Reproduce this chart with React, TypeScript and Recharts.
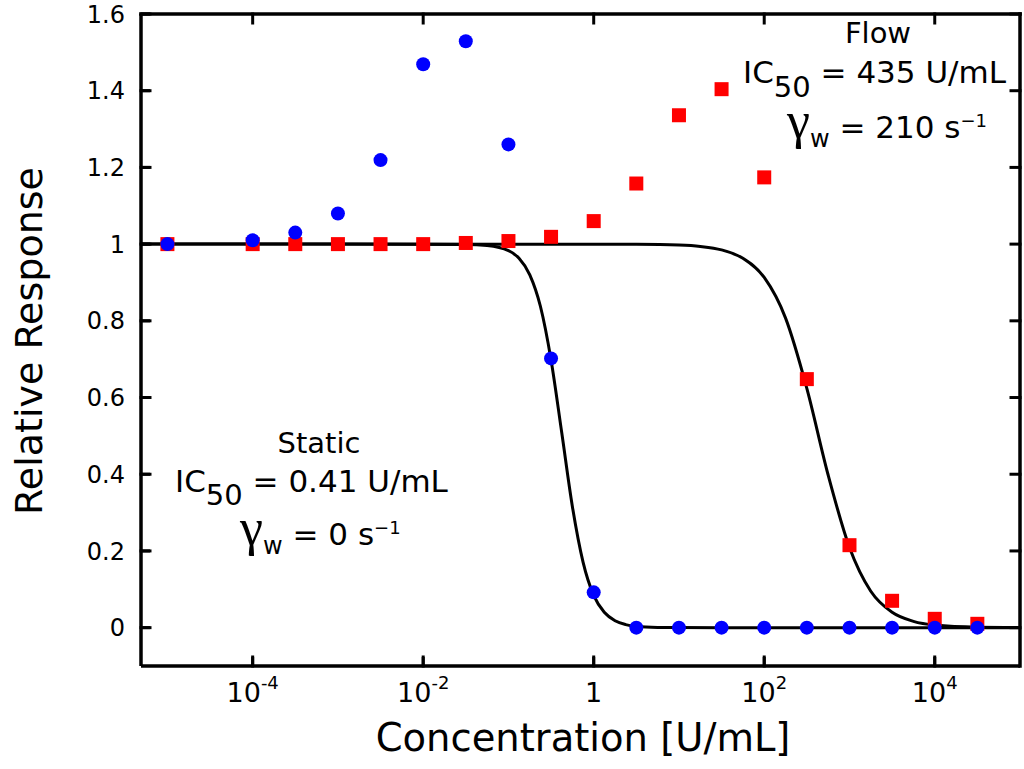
import React from "react";
import {
  ComposedChart,
  Line,
  Scatter,
  XAxis,
  YAxis,
  ReferenceLine,
  Customized,
} from "recharts";

// ---- data ----
const concentrations = [
  0.00001, 0.0001, 0.000316, 0.001, 0.00316, 0.01, 0.0316, 0.1, 0.316, 1,
  3.16, 10, 31.6, 100, 316, 1000, 3160, 10000, 31600,
];
const staticValues = [
  1.0, 1.01, 1.03, 1.08, 1.219, 1.469, 1.529, 1.26, 0.702, 0.092, 0, 0, 0, 0,
  0, 0, 0, 0, 0,
];
const flowValues = [
  1.0, 1.0, 1.0, 1.0, 1.0, 1.0, 1.003, 1.008, 1.019, 1.06, 1.158, 1.336,
  1.404, 1.174, 0.648, 0.215, 0.07, 0.023, 0.01,
];

// fitted curves
const staticCurveX = [
  0.0000049, 0.001, 0.0316, 0.0562, 0.1, 0.133, 0.178, 0.237, 0.316, 0.422,
  0.562, 0.75, 1, 1.33, 1.78, 2.37, 3.16, 5.62, 10, 100, 100000,
];
const staticCurveY = [
  1, 1, 0.9993, 0.9965, 0.983, 0.963, 0.92, 0.838, 0.698, 0.508, 0.316, 0.171,
  0.084, 0.04, 0.018, 0.008, 0.0036, 0.0007, 0.0002, 0, 0,
];
const flowCurveX = [
  0.0000049, 1, 3.16, 10, 17.8, 31.6, 56.2, 100, 178, 316, 562, 1000, 1778,
  3162, 5623, 10000, 31623, 100000,
];
const flowCurveY = [
  1, 0.99994, 0.9996, 0.9976, 0.994, 0.985, 0.963, 0.913, 0.807, 0.624, 0.398,
  0.209, 0.095, 0.04, 0.0164, 0.0066, 0.001, 0.0002,
];

const xTicks = [0.0001, 0.01, 1, 100, 10000];
const xTickLabels = [
  { base: "10", exp: "-4" },
  { base: "10", exp: "-2" },
  { base: "1", exp: "" },
  { base: "10", exp: "2" },
  { base: "10", exp: "4" },
];
const yTicks = [0, 0.2, 0.4, 0.6, 0.8, 1, 1.2, 1.4, 1.6];
const yTickLabels = ["0", "0.2", "0.4", "0.6", "0.8", "1", "1.2", "1.4", "1.6"];

// ---- layout (page coordinates; chart placed at page origin) ----
const W = 1024;
const H = 769;
const PLOT_TOP = 14;
const PLOT_RIGHT = 1020;
const PLOT_LEFT = 141;
const PLOT_BOTTOM = 666;
const X_MIN = 0.0000049;
const X_MAX = 100000;
const Y_MIN = -0.1;
const Y_MAX = 1.6;
const TICK_DY = 0.0235; // inward tick length in y data units (~9px)
const TICK_XF = 1.275; // inward tick length as x factor on log axis (~9px)
const FONT = "'DejaVu Sans', 'Liberation Sans', sans-serif";
const GAMMA_FONT = "'Liberation Serif', 'DejaVu Serif', serif";

const staticPts = concentrations.map((x, i) => ({ x, y: staticValues[i] }));
const flowPts = concentrations.map((x, i) => ({ x, y: flowValues[i] }));
const staticCurve = staticCurveX.map((x, i) => ({ x, y: staticCurveY[i] }));
const flowCurve = flowCurveX.map((x, i) => ({ x, y: flowCurveY[i] }));

const BottomTick = (props: any) => {
  const { x, payload } = props;
  const idx = xTicks.indexOf(payload.value);
  const lab = xTickLabels[idx] || { base: String(payload.value), exp: "" };
  return (
    <text x={x} y={702} textAnchor="middle" fontFamily={FONT} fontSize={27} fill="#000">
      <tspan>{lab.base}</tspan>
      {lab.exp ? (
        <tspan dy={-13} fontSize={18}>{lab.exp}</tspan>
      ) : null}
    </text>
  );
};

const LeftTick = (props: any) => {
  const { y, payload } = props;
  const idx = yTicks.indexOf(payload.value);
  return (
    <text x={125} y={y} dy="0.36em" textAnchor="end" fontFamily={FONT} fontSize={24} fill="#000">
      {yTickLabels[idx]}
    </text>
  );
};

const EmptyTick = () => <g />;

const Circle = (props: any) => {
  const { cx, cy } = props;
  return <circle cx={cx} cy={cy} r={7} fill="#0000ff" />;
};
const Square = (props: any) => {
  const { cx, cy } = props;
  return <rect x={cx - 7} y={cy - 7} width={14} height={14} fill="#ff0000" />;
};

const GammaLine = ({ x, y, value }: { x: number; y: number; value: string }) => (
  <text x={x} y={y} fontSize={31} fontFamily={FONT} fill="#000">
    <tspan fontFamily={GAMMA_FONT} fontSize={52}>γ</tspan>
    <tspan dy={9} fontSize={24}>w</tspan>
    <tspan dy={-9}>{" = " + value + " s"}</tspan>
    <tspan dy={-11} fontSize={18}>−1</tspan>
  </text>
);

const Annotations = () => (
  <g fontFamily={FONT} fill="#000">
    <text x={583} y={751} textAnchor="middle" fontSize={38.5}>
      Concentration [U/mL]
    </text>
    <text transform="translate(42, 341) rotate(-90)" textAnchor="middle" fontSize={38}>
      Relative Response
    </text>
    <text x={878} y={43} textAnchor="middle" fontSize={29}>Flow</text>
    <text x={743} y={83} fontSize={31}>
      <tspan>IC</tspan>
      <tspan dy={14} fontSize={29}>50</tspan>
      <tspan dy={-14}> = 435 U/mL</tspan>
    </text>
    <GammaLine x={787} y={138} value="210" />
    <text x={319} y={453} textAnchor="middle" fontSize={29}>Static</text>
    <text x={175} y={492} fontSize={31}>
      <tspan>IC</tspan>
      <tspan dy={13} fontSize={29}>50</tspan>
      <tspan dy={-13}> = 0.41 U/mL</tspan>
    </text>
    <GammaLine x={240} y={545} value="0" />
  </g>
);

const axisLineStyle = { stroke: "#000", strokeWidth: 3.5 };
const tickLineStyle = { stroke: "#000", strokeWidth: 3 };

export default function App() {
  const xDomain = [X_MIN, X_MAX];
  const segs: { key: string; seg: { x: number; y: number }[]; w: number }[] = [
    { key: "frame-top", seg: [{ x: X_MIN, y: Y_MAX }, { x: X_MAX, y: Y_MAX }], w: 3.5 },
    { key: "frame-right", seg: [{ x: X_MAX, y: Y_MIN }, { x: X_MAX, y: Y_MAX }], w: 3.5 },
  ];
  xTicks.forEach((t) => {
    segs.push({ key: "xb" + t, seg: [{ x: t, y: Y_MIN }, { x: t, y: Y_MIN + TICK_DY }], w: 3 });
    segs.push({ key: "xt" + t, seg: [{ x: t, y: Y_MAX }, { x: t, y: Y_MAX - TICK_DY }], w: 3 });
  });
  yTicks.forEach((t) => {
    segs.push({ key: "yl" + t, seg: [{ x: X_MIN, y: t }, { x: X_MIN * TICK_XF, y: t }], w: 3 });
    segs.push({ key: "yr" + t, seg: [{ x: X_MAX, y: t }, { x: X_MAX / TICK_XF, y: t }], w: 3 });
  });
  return (
    <div style={{ position: "absolute", left: 0, top: 0, width: W, height: H, background: "#fff" }}>
      <ComposedChart
        width={W}
        height={H}
        margin={{ top: PLOT_TOP, right: W - PLOT_RIGHT, bottom: 0, left: 0 }}
      >
        <XAxis
          xAxisId="b"
          dataKey="x"
          type="number"
          scale="log"
          domain={xDomain}
          allowDataOverflow
          ticks={xTicks}
          height={H - PLOT_BOTTOM}
          axisLine={axisLineStyle}
          tickLine={tickLineStyle}
          tickSize={-9}
          tick={<BottomTick />}
          interval={0}
        />
        <XAxis
          xAxisId="t"
          orientation="top"
          dataKey="x"
          type="number"
          scale="log"
          domain={xDomain}
          allowDataOverflow
          ticks={xTicks}
          height={0}
          axisLine={axisLineStyle}
          tickLine={tickLineStyle}
          tickSize={-9}
          tick={<EmptyTick />}
          interval={0}
        />
        <YAxis
          yAxisId="l"
          dataKey="y"
          type="number"
          domain={[Y_MIN, Y_MAX]}
          allowDataOverflow
          ticks={yTicks}
          width={PLOT_LEFT}
          axisLine={axisLineStyle}
          tickLine={tickLineStyle}
          tickSize={-9}
          tick={<LeftTick />}
          interval={0}
        />
        <YAxis
          yAxisId="r"
          orientation="right"
          dataKey="y"
          type="number"
          domain={[Y_MIN, Y_MAX]}
          allowDataOverflow
          ticks={yTicks}
          width={0}
          axisLine={axisLineStyle}
          tickLine={tickLineStyle}
          tickSize={-9}
          tick={<EmptyTick />}
          interval={0}
        />
        {segs.map((s) => (
          <ReferenceLine
            key={s.key}
            xAxisId="b"
            yAxisId="l"
            segment={s.seg}
            stroke="#000"
            strokeWidth={s.w}
            strokeLinecap="square"
            ifOverflow="visible"
          />
        ))}
        <Line
          xAxisId="b"
          yAxisId="l"
          data={staticCurve}
          dataKey="y"
          type="monotone"
          stroke="#000"
          strokeWidth={3}
          dot={false}
          isAnimationActive={false}
        />
        <Line
          xAxisId="b"
          yAxisId="l"
          data={flowCurve}
          dataKey="y"
          type="monotone"
          stroke="#000"
          strokeWidth={3}
          dot={false}
          isAnimationActive={false}
        />
        <Scatter
          xAxisId="b"
          yAxisId="l"
          data={flowPts}
          dataKey="y"
          shape={<Square />}
          isAnimationActive={false}
        />
        <Scatter
          xAxisId="b"
          yAxisId="l"
          data={staticPts}
          dataKey="y"
          shape={<Circle />}
          isAnimationActive={false}
        />
        <Customized component={<Annotations />} />
      </ComposedChart>
    </div>
  );
}
